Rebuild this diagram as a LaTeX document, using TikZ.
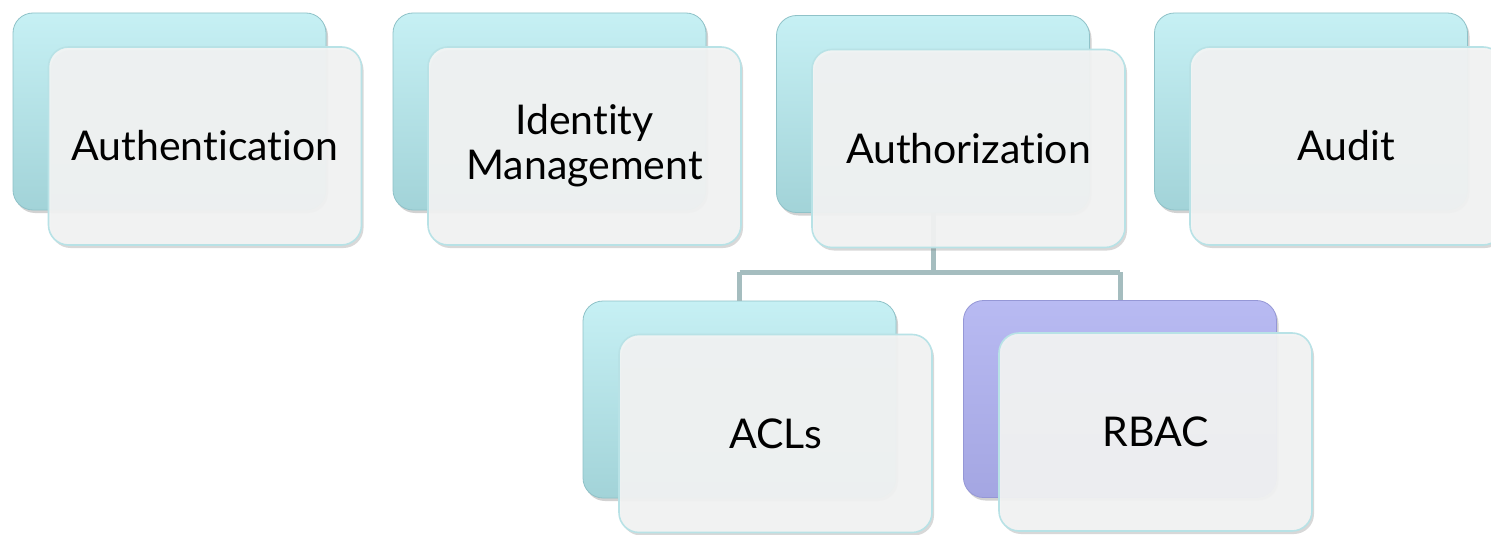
\documentclass[tikz,border=0pt]{standalone}
\usepackage{fontspec}
\setmainfont[Ligatures={NoCommon,NoContextual}]{Lato}
\usetikzlibrary{shadows,positioning}
\definecolor{tealtop}{HTML}{C6F0F4}
\definecolor{tealbot}{HTML}{A2D3D8}
\definecolor{tealedge}{HTML}{8FC2C8}
\definecolor{lavtop}{HTML}{B8BAF2}
\definecolor{lavbot}{HTML}{A4A6E2}
\definecolor{lavedge}{HTML}{9597D6}
\definecolor{frontfill}{HTML}{F3F4F4}
\definecolor{frontedge}{HTML}{B8E2E6}
\definecolor{linkcol}{HTML}{A5BDBF}
\tikzset{
  backbox/.style={rectangle, rounded corners=20pt, minimum width=313pt, minimum height=197pt,
    top color=tealtop, bottom color=tealbot, draw=tealedge, line width=0.8pt,
    drop shadow={shadow xshift=2pt, shadow yshift=-3pt, opacity=0.35}},
  lavbox/.style={backbox, top color=lavtop, bottom color=lavbot, draw=lavedge},
  frontbox/.style={rectangle, rounded corners=20pt, minimum width=313pt, minimum height=198pt,
    fill=frontfill, fill opacity=0.93, text opacity=1, draw=frontedge, line width=1.6pt,
    drop shadow={shadow xshift=2pt, shadow yshift=-3pt, opacity=0.3},
    font=\fontsize{41}{45}\selectfont, align=center, text=black},
  link/.style={draw=linkcol, line width=5pt}
}
\begin{document}
\begin{tikzpicture}[x=1pt,y=-1pt]
\useasboundingbox (0,0) rectangle (1491,535);
\fill[white] (0,0) rectangle (1491,535);
% back cards
\node[backbox] (authnB) at (169.5,111.5) {};
\node[backbox] (idmB)   at (549.5,111.5) {};
\node[backbox] (authzB) at (933,114) {};
\node[backbox] (auditB) at (1311,111.5) {};
\node[backbox] (aclB)   at (739.5,399.5) {};
\node[lavbox]  (rbacB)  at (1120,399) {};
% connectors from Authorization to its children
\coordinate (split) at (933,272);
\draw[link] (authzB.south) -- (split);
\draw[link] (aclB.north |- split) -- (rbacB.north |- split);
\draw[link] (aclB.north |- split) -- (aclB.north);
\draw[link] (rbacB.north |- split) -- (rbacB.north);
% front cards with labels
\node[frontbox] (authn) at (205,146) {Authentication};
\node[frontbox] (idm)   at (584.5,146) {Identity\\Management};
\node[frontbox] (authz) at (968.5,148.5) {Authorization};
\node[frontbox] (audit) at (1346.5,146) {Audit};
\node[frontbox] (acl)   at (775.5,433.5) {ACLs};
\node[frontbox] (rbac)  at (1155.5,432) {RBAC};
\end{tikzpicture}
\end{document}
